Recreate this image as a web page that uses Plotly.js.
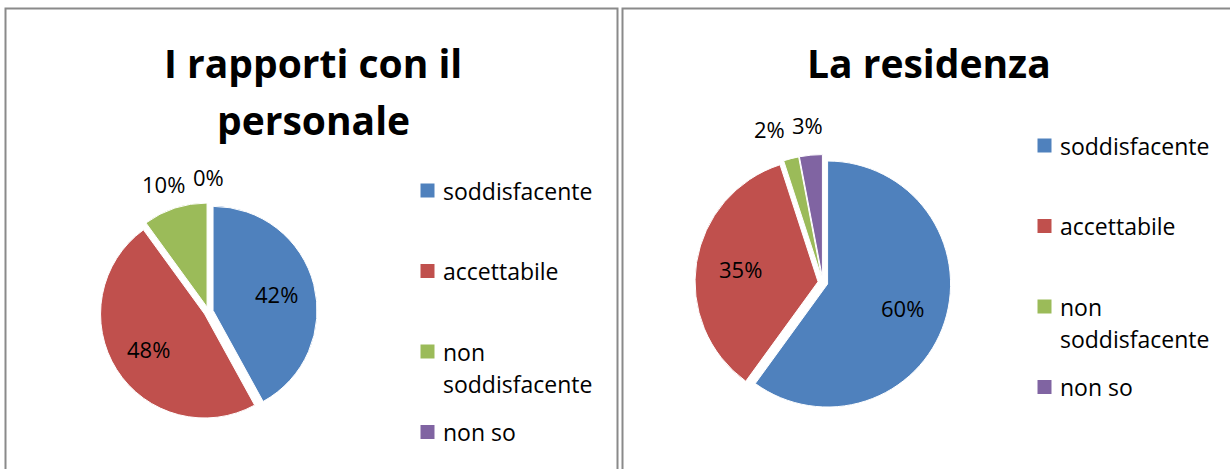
<!DOCTYPE html>
<html><head><meta charset="utf-8">
<script src="https://cdn.plot.ly/plotly-3.0.1.min.js"></script>
<style>html,body{margin:0;padding:0;background:#fff}#chart{width:1230px;height:469px}</style>
</head><body><div id="chart"></div>
<script>
// ---- data ----
const categories = ["soddisfacente", "accettabile", "non soddisfacente", "non so"];
const titleLeft = ["I rapporti con il", "personale"];
const titleRight = ["La residenza"];
const valuesLeft = [42, 48, 10, 0];
const valuesRight = [60, 35, 2, 3];
const colors = ["#4F81BD", "#C0504D", "#9BBB59", "#8064A2"];

// ---- layout helpers ----
const W = 1230, H = 469;
const FONT = '"Open Sans", sans-serif';
const px = x => x / W, py = y => 1 - y / H;

const pies = [
  {values: valuesLeft, cx: 208.5, cy: 311.5, r: 104, pull: 0.045, title: titleLeft, titleX: 313, titleY0: 62, legX: 420.5, legY: 190.5},
  {values: valuesRight, cx: 822.9, cy: 282.5, r: 123, pull: 0.04, title: titleRight, titleX: 929, titleY0: 62, legX: 1037.5, legY: 145.5}
];

const traces = [], annotations = [], shapes = [];

// boxes
shapes.push({type: 'rect', xref: 'paper', yref: 'paper', x0: px(5.5), x1: px(617.5), y0: py(490), y1: py(8.5), line: {color: '#8a8a8a', width: 2}});
shapes.push({type: 'rect', xref: 'paper', yref: 'paper', x0: px(622.5), x1: px(1250), y0: py(490), y1: py(8.5), line: {color: '#8a8a8a', width: 2}});

const pctW = s => (s.length - 1) * 12.6 + 18.1;

pies.forEach(p => {
  const half = p.r * (1 + p.pull);
  traces.push({
    type: 'pie', values: p.values, labels: categories, sort: false, direction: 'clockwise', rotation: 0,
    marker: {colors: colors, line: {color: '#ffffff', width: 1}},
    pull: p.values.map(() => p.pull), textinfo: 'none', hoverinfo: 'none', showlegend: false,
    domain: {x: [px(p.cx - half), px(p.cx + half)], y: [py(p.cy + half), py(p.cy - half)]}
  });
  // percentage labels
  const total = p.values.reduce((a, b) => a + b, 0);
  let cum = 0;
  const labs = p.values.map(v => {
    const share = v / total;
    const mid = (cum + share / 2) * 2 * Math.PI; cum += share;
    const inside = share >= 0.15;
    const f = inside ? 0.68 : 1.29;
    const text = Math.round(share * 100) + '%';
    return {text, inside, x: p.cx + f * p.r * Math.sin(mid), y: p.cy - f * p.r * Math.cos(mid)};
  });
  // avoid overlap of outside labels (shift earlier label left)
  for (let i = labs.length - 2; i >= 0; i--) {
    const a = labs[i], b = labs[i + 1];
    if (!a.inside && !b.inside) {
      const minD = (pctW(a.text) + pctW(b.text)) / 2 + 8;
      if (b.x - a.x < minD && Math.abs(a.y - b.y) < 22) a.x = b.x - minD;
    }
  }
  labs.forEach(l => annotations.push({xref: 'paper', yref: 'paper', x: px(l.x), y: py(l.y), text: l.text, showarrow: false,
    xanchor: 'center', yanchor: 'middle', font: {family: FONT, size: 22, color: '#000'}}));
  // titles
  p.title.forEach((t, j) => annotations.push({xref: 'paper', yref: 'paper', x: px(p.titleX), y: py(p.titleY0 + j * 57), text: '<b>' + t + '</b>',
    showarrow: false, xanchor: 'center', yanchor: 'middle', font: {family: FONT, size: 39, color: '#000'}}));
  // legend
  categories.forEach((c, i) => {
    const yi = p.legY + i * 80.5;
    shapes.push({type: 'rect', xref: 'paper', yref: 'paper', x0: px(p.legX), x1: px(p.legX + 14), y0: py(yi + 7), y1: py(yi - 7),
      fillcolor: colors[i], line: {width: 0}});
    const lines = (c.length > 12 && c.indexOf(' ') > 0) ? c.split(' ') : [c];
    lines.forEach((ln, j) => annotations.push({xref: 'paper', yref: 'paper', x: px(p.legX + 20), y: py(yi + j * 32.5), text: ln,
      showarrow: false, xanchor: 'left', yanchor: 'middle', font: {family: FONT, size: 23, color: '#000'}}));
  });
});

Plotly.newPlot('chart', traces, {
  width: W, height: H, margin: {l: 0, r: 0, t: 0, b: 0}, paper_bgcolor: '#fff', plot_bgcolor: '#fff',
  showlegend: false, annotations, shapes, font: {family: FONT}
}, {staticPlot: true, displayModeBar: false});
</script>
</body></html>
